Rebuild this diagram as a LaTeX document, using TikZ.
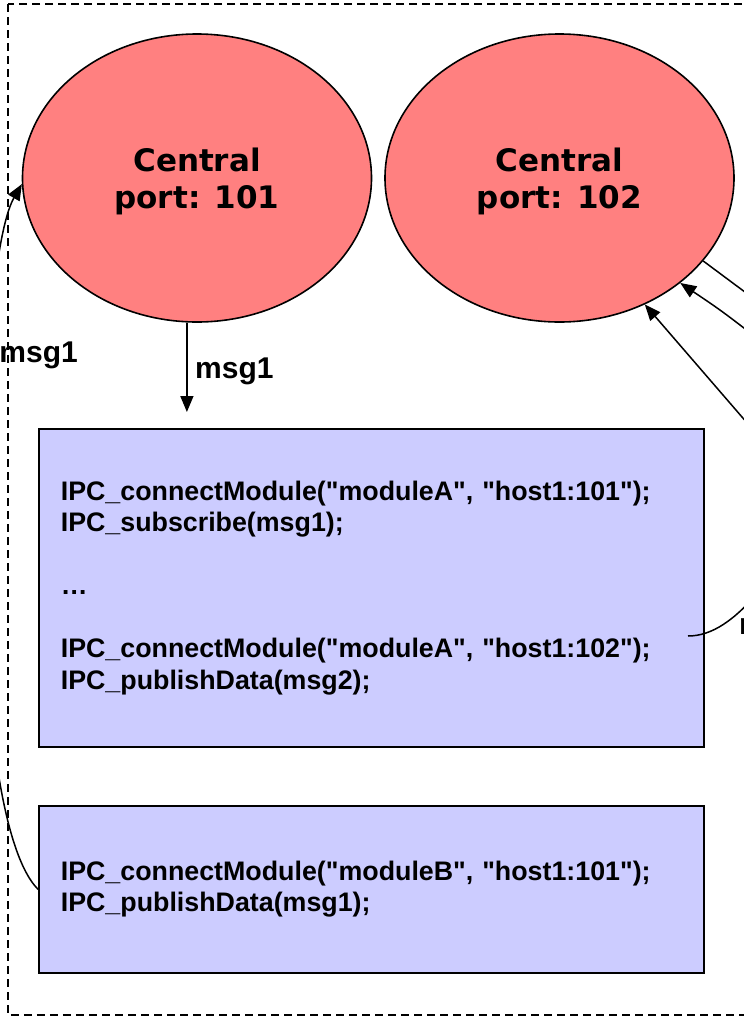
\documentclass[tikz,border=0pt]{standalone}
\usepackage{fontspec}
\setmainfont{Liberation Sans}
\newfontfamily\ellfont{DejaVu Sans}
\usetikzlibrary{shapes.geometric,arrows.meta}
\definecolor{portfill}{HTML}{FF8080}
\definecolor{codefill}{HTML}{CCCCFF}
\newcommand\sq{\textquotedbl}
\tikzset{
  central/.style={ellipse, draw=black, line width=1.6pt, fill=portfill,
    minimum width=349pt, minimum height=288pt, inner sep=0pt, align=center,
    text depth=0pt, font=\ellfont\bfseries\fontsize{31}{37}\selectfont},
  codebox/.style={rectangle, draw=black, line width=1.6pt, fill=codefill,
    align=left, inner xsep=22pt, inner ysep=0pt, anchor=north west,
    text width=621pt, font=\bfseries\fontsize{26.8}{31.5}\selectfont},
  msglabel/.style={font=\bfseries\fontsize{30}{36}\selectfont, inner sep=0pt},
  flow/.style={line width=1.5pt, -{Triangle[length=16pt,width=13pt]}},
  plainline/.style={line width=1.5pt},
  frame/.style={draw, line width=1.5pt, dash pattern=on 8pt off 5pt}
}
\begin{document}
\begin{tikzpicture}[x=1pt,y=-1pt]
\useasboundingbox (0,0) rectangle (744,1018);
\clip (0,0) rectangle (744,1018);

% outer dashed frame
\draw[frame] (8,4) rectangle (820,1015);

% central servers
\node[central] (e1) at (197,178) {Central\\port: 101};
\node[central] (e2) at (559.5,178) {Central\\port: 102};

% module code
\node[codebox, minimum height=318pt] (box1) at (38,428) {%
IPC\_connectModule(\sq moduleA\sq, \sq host1:101\sq);\\
IPC\_subscribe(msg1);\\[31.5pt]
…\\[31.5pt]
IPC\_connectModule(\sq moduleA\sq, \sq host1:102\sq);\\
IPC\_publishData(msg2);};
\node[codebox, minimum height=167pt] (box2) at (38,805) {%
IPC\_connectModule(\sq moduleB\sq, \sq host1:101\sq);\\
IPC\_publishData(msg1);};

% connectors
\draw[flow, shorten >=16pt] (e1.-94) -- (e1.-94 |- box1.north);
\node[msglabel, anchor=base west] (lblA) at (195,378) {msg1};

\draw[flow] (box2.west) .. controls (-40,810) and (-25,265) .. (e1.182);
\node[msglabel, anchor=base east] (lblB) at (78,362) {msg1};

\coordinate (outA) at (800,333);
\coordinate (outB) at (775,352);
\coordinate (outC) at (780,461);
\coordinate (srcD) at (688,636);
\coordinate (outD) at (760,590);

\draw[plainline] (e2.-30) -- (outA);
\draw[flow] (outB) .. controls (722,311) .. (e2.-41);
\draw[flow] (outC) -- (e2.-56);
\draw[plainline] (srcD) .. controls (712,636) and (735,620) .. (outD);
\node[msglabel, anchor=base west] (lblC) at (739,634) {msg2};
\end{tikzpicture}
\end{document}
